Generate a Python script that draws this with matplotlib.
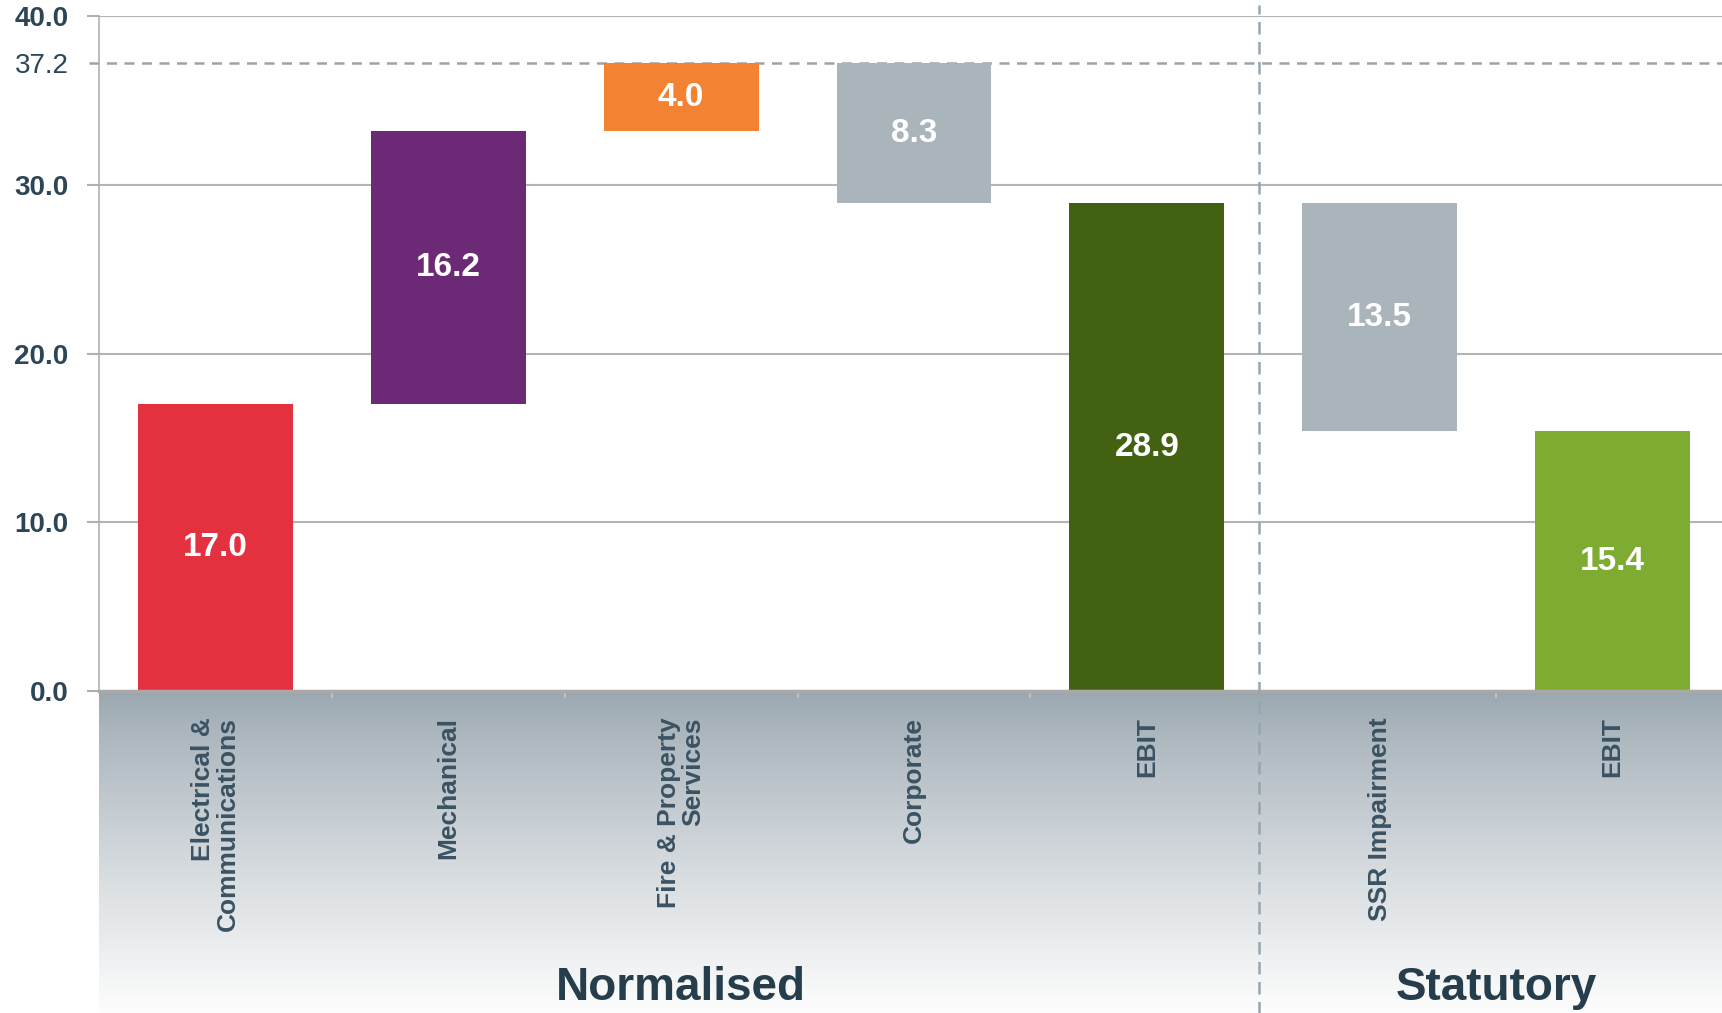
import numpy as np
import matplotlib
matplotlib.use("Agg")
import matplotlib.pyplot as plt
from matplotlib.transforms import blended_transform_factory

plt.rcParams['font.family'] = ['Liberation Sans', 'DejaVu Sans']

# waterfall data (A$m)
categories = ["Electrical &\nCommunications", "Mechanical", "Fire & Property\nServices",
              "Corporate", "EBIT", "SSR Impairment", "EBIT"]
values = [17.0, 16.2, 4.0, -8.3, 28.9, -13.5, 15.4]
is_total = [False, False, False, False, True, False, True]
colors = ["#E4313F", "#6C2975", "#F38233", "#A9B4BB", "#426212", "#A9B4BB", "#7EAC33"]
groups = ["Normalised", "Statutory"]
group_centres = [2, 5.5]
grid_values = [0, 10, 20, 30, 40]

# work out floating bar bottoms / heights
bottoms, heights = [], []
running = 0.0
peak = 0.0
for v, tot in zip(values, is_total):
    if tot:
        bottoms.append(0.0)
        heights.append(v)
        running = v
    elif v >= 0:
        bottoms.append(running)
        heights.append(v)
        running += v
    else:
        bottoms.append(running + v)
        heights.append(-v)
        running += v
    peak = max(peak, running)
peak = round(peak, 1)

W, H = 1722, 1013
fig = plt.figure(figsize=(W / 100, H / 100), dpi=100)
left, base, top = 99, 691, 16
ax = fig.add_axes([left / W, (H - base) / H, 1 - left / W, (base - top) / H], zorder=2)

# grey gradient panel under the axis
bg = fig.add_axes([left / W, 0, 1 - left / W, (H - base - 1) / H], zorder=0)
t = np.linspace(0, 1, 256) ** 0.85
c_top = np.array([154, 167, 176]) / 255
c_bot = np.array([253, 253, 253]) / 255
grad = c_top[None, :] * (1 - t[:, None]) + c_bot[None, :] * t[:, None]
bg.imshow(grad[:, None, :], aspect="auto", extent=[0, 1, 0, 1])
bg.axis("off")

x = np.arange(len(categories))
ax.bar(x, heights, bottom=bottoms, width=0.665, color=colors, zorder=3)

for xi, b, h, v in zip(x, bottoms, heights, values):
    ax.text(xi, b + h / 2, f"{abs(v):.1f}", ha="center", va="center",
            color="white", fontsize=24, fontweight="bold", zorder=4)

for g in grid_values[1:]:
    ax.axhline(g, color="#B4B4B4", lw=1.5, zorder=1)
ax.axhline(peak, xmin=-0.006, xmax=1, color="#97A5AF", lw=1.8,
           linestyle=(0, (4, 3)), clip_on=False, zorder=1)
ax.axvline(4.48, ymin=-0.478, ymax=1.017, color="#97A5AF", lw=1.8,
           linestyle=(0, (5, 3)), clip_on=False, zorder=5)

ax.set_xlim(-0.5, 6.47)
ax.set_ylim(0, 40)

yt = grid_values[:4] + [peak, 40]
ax.set_yticks(yt)
ax.set_yticklabels([f"{v:.1f}" for v in yt])
for lab, v in zip(ax.get_yticklabels(), yt):
    lab.set_fontweight("normal" if v == peak else "bold")
ax.tick_params(axis="y", length=9, width=1.5, color="#B0B0B0", pad=13,
               labelsize=20, labelcolor="#2D4656")
ax.yaxis.get_major_ticks()[4].tick1line.set_visible(False)

ax.set_xticks([0.5, 1.5, 2.5, 3.5, 5.5])
ax.set_xticklabels([])
ax.tick_params(axis="x", length=5, width=1.2, color="#C4C8CB", direction="out")

for side in ["top", "right"]:
    ax.spines[side].set_visible(False)
ax.spines["left"].set_color("#B0B0B0")
ax.spines["left"].set_linewidth(1.2)
ax.spines["bottom"].set_color("#A8A8A8")
ax.spines["bottom"].set_linewidth(2.5)
ax.spines["bottom"].set_zorder(4)

trans = blended_transform_factory(ax.transData, ax.transAxes)
for xi, name in zip(x, categories):
    ax.text(xi, -0.039, name, rotation=90, ha="center", va="top",
            multialignment="right", linespacing=1.05, transform=trans,
            fontsize=19, fontweight="bold", color="#3A5262", zorder=5)

for gx, name in zip(group_centres, groups):
    ax.text(gx, -0.44, name, ha="center", va="center", transform=trans,
            fontsize=33, fontweight="bold", color="#263D4C", zorder=5)

fig.savefig("out.png", dpi=100)
